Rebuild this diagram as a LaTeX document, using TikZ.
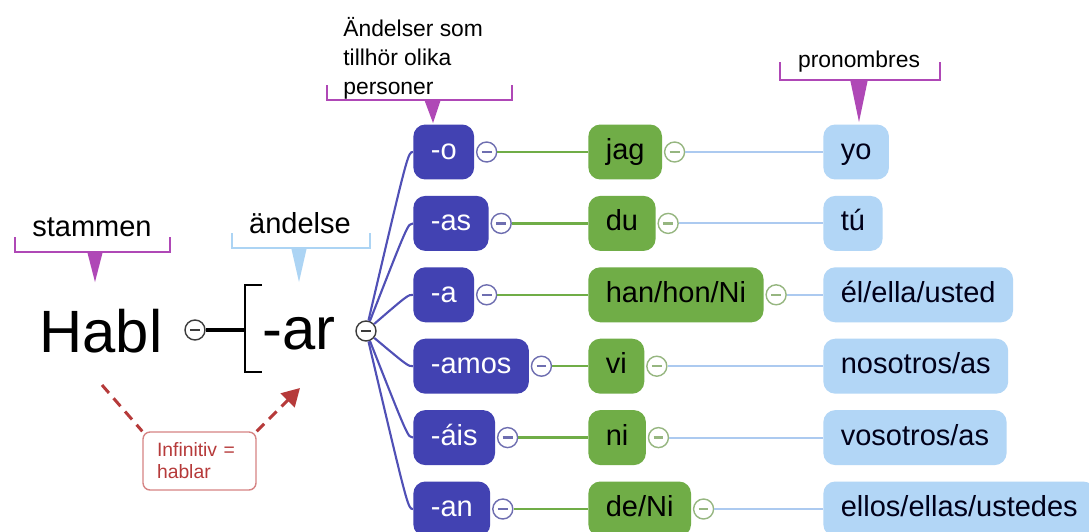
\documentclass[tikz,border=0pt]{standalone}
\usepackage{fontspec}
\setmainfont{Liberation Sans}
\usepackage{tikz}
\usetikzlibrary{positioning}
\usetikzlibrary{arrows.meta}

\definecolor{endblue}{RGB}{66,66,178}
\definecolor{svgreen}{RGB}{112,173,71}
\definecolor{prblue}{RGB}{178,214,246}
\definecolor{linblue}{RGB}{80,80,182}
\definecolor{lingreen}{RGB}{112,173,71}
\definecolor{linlight}{RGB}{172,202,240}
\definecolor{circblue}{RGB}{110,110,176}
\definecolor{circgreen}{RGB}{150,182,128}
\definecolor{dkgrey}{RGB}{60,60,60}
\definecolor{calmag}{RGB}{175,72,182}
\definecolor{calblue}{RGB}{172,212,244}
\definecolor{infred}{RGB}{182,58,58}
\definecolor{infborder}{RGB}{214,132,132}

\newcommand{\nodefont}{\fontsize{16.5}{19}\selectfont}

\tikzset{
  endbox/.style={rounded corners=0.24cm,fill=endblue,text=white,minimum height=1.1cm,
    text height=12pt,text depth=3.5pt,inner xsep=0.35cm,anchor=west,font=\nodefont},
  svbox/.style={endbox,fill=svgreen,text=black},
  prbox/.style={endbox,fill=prblue,text=black!90!blue},
  mcirc/.style={circle,draw=#1,fill=white,line width=0.8pt,minimum size=0.4cm,inner sep=0pt,
    path picture={\draw[#1,line width=1.4pt] ([xshift=-2.8pt]path picture bounding box.center)
      -- ([xshift=2.8pt]path picture bounding box.center);}},
  bline/.style={draw=linblue,line width=1.2pt},
  gline/.style={draw=lingreen,line width=1.4pt},
  pline/.style={draw=linlight,line width=1.2pt},
  bigword/.style={font=\fontsize{34}{38}\selectfont},
  lbl/.style={font=\nodefont},
  smlbl/.style={font=\fontsize{13}{16.5}\selectfont},
  magline/.style={draw=calmag,line width=1.4pt},
  lbline/.style={draw=calblue,line width=1.4pt},
  reddash/.style={draw=infred,line width=1.7pt,dash pattern=on 6pt off 4pt},
  infbox/.style={draw=infborder,line width=0.8pt,rounded corners=4pt,text=infred,align=left,
    text width=1.7cm,inner xsep=0.28cm,minimum height=1.16cm,font=\fontsize{11}{12.5}\selectfont}
}

\begin{document}
\begin{tikzpicture}[x=0.02cm,y=-0.02cm]
  \path[use as bounding box,fill=white] (0,0) rectangle (1089,531);

  % stem and ending
  \node[bigword,anchor=base] (habl) at (101,352) {Habl};
  \node[mcirc=dkgrey] (ch) at (195,330) {};
  \node[bigword,anchor=base west,inner sep=0pt] (ar) at (262,349) {-ar};
  \node[mcirc=dkgrey] (ca) at (366,331) {};
  \coordinate (brk) at (245,330);
  \draw[line width=1.4pt] (262,285) -- (245,285) -- (245,372) -- (262,372);
  \draw[line width=2.4pt] (ch) -- (brk);

  % endings, persons, pronouns
  \foreach \i/\y/\suf/\pers/\pron in {1/152/-o/jag/yo, 2/223.4/-as/du/tú,
      3/294.8/-a/{han/hon/Ni}/{él/ella/usted}, 4/366.2/-amos/vi/{nosotros/as},
      5/437.6/-áis/ni/{vosotros/as}, 6/509/-an/{de/Ni}/{ellos/ellas/ustedes}}{
    \node[endbox] (b\i) at (413,\y) {\suf};
    \node[mcirc=circblue,right=0.03cm of b\i] (cb\i) {};
    \node[svbox] (g\i) at (588,\y) {\pers};
    \node[mcirc=circgreen,right=0.03cm of g\i] (cg\i) {};
    \node[prbox] (p\i) at (823,\y) {\pron};
    \draw[bline] (ca) .. controls ([xshift=-0.1cm]b\i.west) .. (b\i.west);
    \draw[gline] (cb\i) -- (g\i);
    \draw[pline] (cg\i) -- (p\i);
  }

  % callouts
  \node[lbl,anchor=base] (stam) at (92,236) {stammen};
  \draw[magline] (15,237) -- (15,252) -- (170,252) -- (170,237);
  \fill[calmag] (87,251) -- (103,251) -- (95,282) -- cycle;

  \node[lbl,anchor=base] (andl) at (300,233) {ändelse};
  \draw[lbline] (232,233) -- (232,248) -- (370,248) -- (370,233);
  \fill[calblue] (291,247) -- (307,247) -- (299,282) -- cycle;

  \node[smlbl,anchor=north west,align=left,inner sep=0pt] (andpers) at (343,17) {Ändelser som\\tillhör olika\\personer};
  \draw[magline] (327,85) -- (327,100) -- (512,100) -- (512,85);
  \fill[calmag] (424,99) -- (441,99) -- (433,123) -- cycle;

  \node[smlbl,anchor=base] (pron) at (859,67) {pronombres};
  \draw[magline] (780,62) -- (780,80) -- (940,80) -- (940,62);
  \fill[calmag] (850,79) -- (868,79) -- (859,122) -- cycle;

  % infinitive
  \node[infbox] (inf) at (199.5,461) {Infinitiv =\\hablar};
  \coordinate (inftail) at (102,385);
  \coordinate (infhead) at (300,388);
  \draw[reddash] (inftail) -- (inf.north west);
  \draw[reddash,-{Triangle[length=10pt,width=11pt]}] (inf.north east) -- (infhead);
\end{tikzpicture}
\end{document}
